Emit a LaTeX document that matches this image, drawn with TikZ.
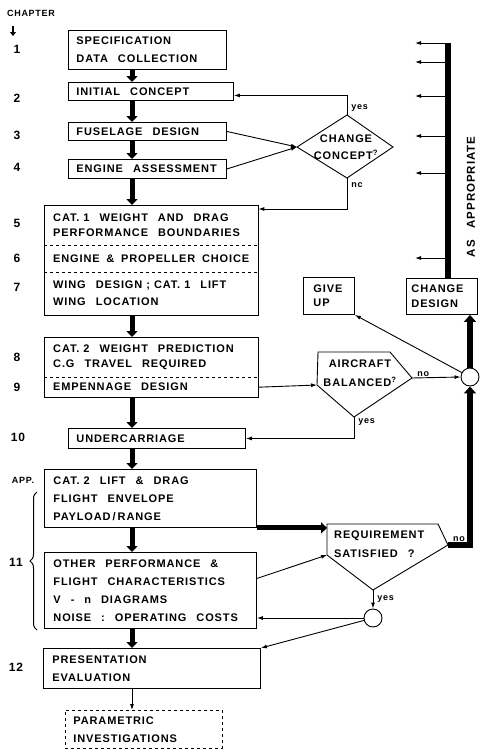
\documentclass[tikz,border=0pt]{standalone}
\usepackage{fontspec}
\setmainfont[LetterSpace=8]{Liberation Sans}
\usetikzlibrary{positioning,arrows.meta,decorations.pathreplacing}
\newcommand\boxfont[2]{\fontsize{#1}{#2}\selectfont\bfseries}
\newcommand\nsp{\hspace{4pt}}

\begin{document}
\begin{tikzpicture}[x=1pt, y=-1pt,
    every node/.style={font=\boxfont{11}{18}, execute at begin node={\spaceskip=10pt minus 3.5pt\relax}},
    stage/.style={draw, line width=0.9pt, anchor=north west, align=left,
                  inner xsep=8pt, inner ysep=0pt},
    part/.style={anchor=north west, align=left, inner xsep=9pt, inner ysep=0pt},
    tight/.style={font=\boxfont{11}{14.5}},
    chapno/.style={font=\boxfont{12}{14}},
    lab/.style={font=\boxfont{9}{10}, inner sep=1pt},
    ask/.style={align=center, inner sep=0pt, font=\boxfont{11}{17}},
    outline/.style={line width=0.9pt, line join=miter},
    bigflow/.style={-{Triangle[length=6pt,width=11pt]}, line width=5pt},
    feedflow/.style={-{Triangle[length=7pt,width=12pt]}, line width=5.5pt},
    link/.style={-{Latex[length=6pt,width=4pt]}, line width=0.9pt},
    junction/.style={circle, draw, line width=0.9pt, minimum size=18pt, inner sep=0pt},
  ]
  \useasboundingbox (0,0) rectangle (485,750);

  % chapter column
  \node[font=\boxfont{9}{10}] (chapter) at (31,13) {CHAPTER};
  \coordinate (chapdown) at (13,26);
  \draw[-{Triangle[length=4pt,width=6pt]}, line width=1.8pt] (chapdown) -- ++(0,10);
  \node[chapno] (n1)  at (17,49)  {1};
  \node[chapno] (n2)  at (17,98)  {2};
  \node[chapno] (n3)  at (17,135) {3};
  \node[chapno] (n4)  at (17,167) {4};
  \node[chapno] (n5)  at (17,223) {5};
  \node[chapno] (n6)  at (17,258) {6};
  \node[chapno] (n7)  at (17,287) {7};
  \node[chapno] (n8)  at (17,357) {8};
  \node[chapno] (n9)  at (17,387) {9};
  \node[chapno] (n10) at (18,437) {10};
  \node[font=\boxfont{9}{10}] (napp) at (23,480) {APP.};
  \node[chapno] (n11) at (16,562) {11};
  \node[chapno] (n12) at (16,667) {12};
  \draw[line width=1pt, decorate, decoration={brace, amplitude=7pt}] (37,630) -- (37,492);

  % main sequence of stages
  \coordinate (spine) at (132,0);
  \node[stage, text width=142pt, minimum height=39pt] (spec) at (68,30)
        {SPECIFICATION\\DATA COLLECTION};
  \node[stage, text width=149pt, minimum height=18pt] (init) at (68,82) {INITIAL CONCEPT};
  \node[stage, text width=142pt, minimum height=18pt] (fus)  at (68,122) {FUSELAGE DESIGN};
  \node[stage, text width=142pt, minimum height=19pt] (eng)  at (68,159) {ENGINE ASSESSMENT};

  \node[part, tight, text width=196pt, minimum height=40pt] (b5) at (44,205)
        {CAT.\nsp1 WEIGHT AND DRAG\\PERFORMANCE BOUNDARIES};
  \node[part, text width=196pt, minimum height=27pt] (b6) at (44,245)
        {ENGINE \& PROPELLER CHOICE};
  \node[part, font=\boxfont{11}{17}, text width=196pt, minimum height=43pt] (b7) at (44,272)
        {WING DESIGN\nsp;\nsp CAT.\nsp1 LIFT\\WING LOCATION};
  \draw[outline] (b5.north west) rectangle (b7.south east);
  \draw[dashed, line width=0.9pt] (b5.south west) -- (b5.south east);
  \draw[dashed, line width=0.9pt] (b6.south west) -- (b6.south east);

  \node[part, tight, text width=196pt, minimum height=40pt] (b8) at (44,337)
        {CAT.\nsp2 WEIGHT PREDICTION\\C.G TRAVEL REQUIRED};
  \node[part, text width=196pt, minimum height=20pt] (b9) at (44,377) {EMPENNAGE DESIGN};
  \draw[outline] (b8.north west) rectangle (b9.south east);
  \draw[dashed, line width=0.9pt] (b8.south west) -- (b8.south east);

  \node[stage, text width=161pt, minimum height=20pt] (b10) at (68,428) {UNDERCARRIAGE};
  \node[stage, inner xsep=9pt, text width=194pt, minimum height=58pt] (app) at (44,469)
        {CAT.\nsp2 LIFT \& DRAG\\FLIGHT ENVELOPE\\PAYLOAD\hspace{2pt}/\hspace{2pt}RANGE};
  \node[stage, inner xsep=9pt, text width=194pt, minimum height=76pt] (b11) at (44,552)
        {OTHER PERFORMANCE \&\\FLIGHT CHARACTERISTICS\\V - n DIAGRAMS\\NOISE : OPERATING COSTS};
  \node[stage, inner xsep=9pt, text width=199pt, minimum height=40pt] (b12) at (43,648)
        {PRESENTATION\\EVALUATION};
  \node[stage, dashed, text width=141pt, minimum height=38pt] (param) at (65,710)
        {PARAMETRIC\\INVESTIGATIONS};

  \draw[bigflow] (spec.south -| spine) -- (init.north -| spine);
  \draw[bigflow] (init.south -| spine) -- (fus.north -| spine);
  \draw[bigflow] (fus.south -| spine)  -- (eng.north -| spine);
  \draw[bigflow] (eng.south -| spine)  -- (b5.north -| spine);
  \draw[bigflow] (b7.south -| spine)   -- (b8.north -| spine);
  \draw[bigflow] (b9.south -| spine)   -- (b10.north -| spine);
  \draw[bigflow] (b10.south -| spine)  -- (app.north -| spine);
  \draw[bigflow] (app.south -| spine)  -- (b11.north -| spine);
  \draw[bigflow] (b11.south -| spine)  -- (b12.north -| spine);
  \draw[link]    (b12.south -| spine)  -- (param.north -| spine);

  % change concept ?
  \node[ask] (cc) at (346,147) {CHANGE\\CONCEPT\textsuperscript{?}};
  \draw[outline] (297,147) coordinate (cc-w) -- (347,115) coordinate (cc-n)
        -- (393,147) -- (347,178) coordinate (cc-s) -- cycle;
  \draw[link] (fus.east) -- (cc-w);
  \draw[link] (eng.east) -- (cc-w);
  \draw[link] (cc-n) |- node[lab, pos=0.17, anchor=west, xshift=3pt]{yes} ([yshift=-4pt]init.east);
  \draw[link] (cc-s) |- node[lab, pos=0.11, anchor=west, xshift=3pt]{nc} ([yshift=-4pt]b5.north east);

  % aircraft balanced ?
  \node[ask, font=\boxfont{11}{19}] (bal) at (360,373) {AIRCRAFT\\BALANCED\textsuperscript{?}};
  \draw[outline] (318,352) -- (390,352) -- (412,378) coordinate (bal-e)
        -- (354,417) coordinate (bal-s) -- (317,385) coordinate (bal-w) -- cycle;
  \draw[link] (b9.east) -- (bal-w);

  % outcomes
  \node[stage, tight, inner xsep=10pt, text width=31pt, minimum height=37pt] (giveup) at (303,277) {GIVE\\UP};
  \node[stage, tight, inner xsep=5pt, text width=61pt, minimum height=36pt] (design) at (406,278) {CHANGE\\DESIGN};
  \node[junction] (jn1) at (470,377) {};
  \draw[link] (bal-e) -- node[lab, pos=0.23, above]{no} (jn1.west);
  \draw[link] (bal-s) |- node[lab, pos=0.12, anchor=west, xshift=3pt]{yes} (b10.east);
  \draw[link] (jn1) -- (giveup.south east);
  \draw[feedflow] (jn1.north) -- (jn1.north |- design.south);

  % feedback, as appropriate
  \coordinate (feed) at (448,43);
  \draw[line width=6pt] (design.north -| feed) -- (feed);
  \foreach \y in {43,62,96,136,173,258}
    \draw[link] (448,\y) -- (415,\y);
  \node[rotate=90, font=\boxfont{11.5}{12}] (asap) at (471,197) {AS\hspace{12pt}APPROPRIATE};

  % requirement satisfied ?
  \node[ask, align=left, anchor=west, inner xsep=7pt, font=\boxfont{11}{19}] (req) at (327,544)
        {REQUIREMENT\\SATISFIED ?};
  \draw[outline] (327,524) coordinate (req-nw) -- (438,524) -- (448,545) coordinate (req-e)
        -- (373,590) coordinate (req-s) -- (327,555) coordinate (req-sw) -- cycle;
  \draw[bigflow] (app.south east) -- (app.south east -| req-nw);
  \draw[link] ([yshift=12pt]b11.east) -- (req-sw);
  \draw[feedflow] (req-e) -| node[lab, pos=0.25, above]{no} (jn1.south);
  \node[junction] (jn2) at (373,618) {};
  \draw[link] (req-s) -- node[lab, anchor=west, xshift=3pt]{yes} (jn2.north);
  \draw[link] (jn2.west) -- (jn2.west -| b11.east);
  \draw[link] (jn2) -- (b12.north east);
\end{tikzpicture}
\end{document}
